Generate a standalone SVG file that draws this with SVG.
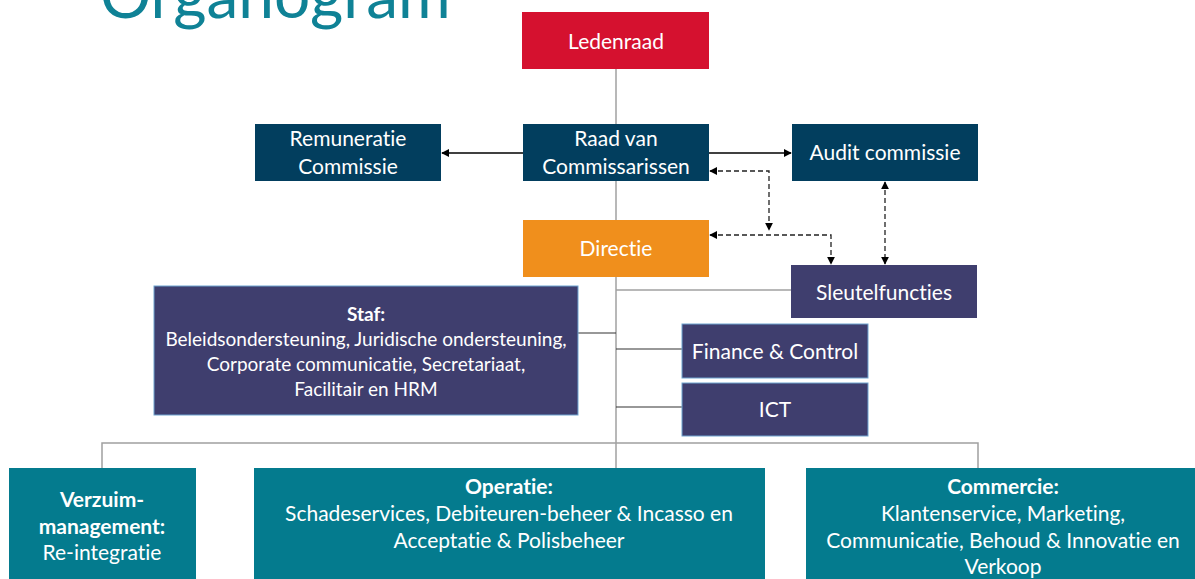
<svg xmlns="http://www.w3.org/2000/svg" width="1195" height="579" viewBox="0 0 1195 579">
<style>
text{font-variant-ligatures:none;font-feature-settings:"liga" 0,"clig" 0}
.t{font-family:Lato,"Liberation Sans",sans-serif;fill:#fff;text-anchor:middle}
.m{font-size:21px}
.s{font-size:19px}
.b{font-weight:bold}
.gray{stroke:#a0a0a0;stroke-width:1.5;fill:none}
.dark{stroke:#333;stroke-width:1.2;fill:none}
.arr{stroke:#000;stroke-width:1.5;fill:none}
.dash{stroke:#222;stroke-width:1.3;fill:none;stroke-dasharray:5 3}
.red{fill:#d5112f}
.blue{fill:#023e5e}
.orange{fill:#f08f1c}
.purple{fill:#3f3e6e}
.pb{fill:#3f3e6e;stroke:#6fa3d0;stroke-width:1}
.teal{fill:#047b8e}
</style>
<defs>
<marker id="ah" viewBox="0 0 10 10" refX="9" refY="5" markerWidth="8" markerHeight="8" markerUnits="userSpaceOnUse" orient="auto-start-reverse">
<path d="M0,0 L10,5 L0,10 z" fill="#000"/>
</marker>
</defs>
<text x="100" y="18" style="font-family:Lato,'Liberation Sans',sans-serif;font-weight:normal;font-size:64px;fill:#0f8296">Organogram</text>
<g id="connectors">
<path class="gray" d="M616,69 V468"/>
<path class="gray" d="M616,290 H791"/>
<path class="gray" d="M102,468 V443 H978 V468"/>
<path class="dark" d="M578,333 H616"/>
<path class="dark" d="M616,349 H682"/>
<path class="dark" d="M616,407 H682"/>
<path class="arr" d="M523,153 H442" marker-end="url(#ah)"/>
<path class="arr" d="M709,153 H791" marker-end="url(#ah)"/>
<path class="dash" d="M710,171 H769 V230" marker-start="url(#ah)" marker-end="url(#ah)"/>
<path class="dash" d="M710,235 H831 V264" marker-start="url(#ah)" marker-end="url(#ah)"/>
<path class="dash" d="M885,182 V264" marker-start="url(#ah)" marker-end="url(#ah)"/>
</g>
<g id="ledenraad"><rect class="red" x="522" y="12" width="187" height="57"/><text class="t m" x="616" y="49">Ledenraad</text></g>
<g id="raad"><rect class="blue" x="523" y="124" width="186" height="57"/><text class="t m" x="616" y="146">Raad van</text><text class="t m" x="616" y="174">Commissarissen</text></g>
<g id="remuneratie"><rect class="blue" x="255" y="124" width="186" height="57"/><text class="t m" x="348" y="146">Remuneratie</text><text class="t m" x="348" y="174">Commissie</text></g>
<g id="audit"><rect class="blue" x="792" y="124" width="186" height="57"/><text class="t m" x="885" y="160">Audit commissie</text></g>
<g id="directie"><rect class="orange" x="523" y="220" width="186" height="57"/><text class="t m" x="616" y="256">Directie</text></g>
<g id="sleutelfuncties"><rect class="purple" x="791" y="265" width="186" height="53"/><text class="t m" x="884" y="300">Sleutelfuncties</text></g>
<g id="staf"><rect class="pb" x="154" y="286" width="424" height="129"/>
<text class="t s b" x="366" y="321">Staf:</text>
<text class="t s" x="366" y="346">Beleidsondersteuning, Juridische ondersteuning,</text>
<text class="t s" x="366" y="371">Corporate communicatie, Secretariaat,</text>
<text class="t s" x="366" y="396">Facilitair en HRM</text></g>
<g id="finance"><rect class="pb" x="682" y="324" width="186" height="54"/><text class="t m" x="775" y="359">Finance &amp; Control</text></g>
<g id="ict"><rect class="pb" x="682" y="383" width="186" height="53"/><text class="t m" x="775" y="417">ICT</text></g>
<g id="verzuim"><rect class="teal" x="9" y="468" width="187" height="120"/>
<text class="t m b" x="102" y="507">Verzuim-</text>
<text class="t m b" x="102" y="534">management:</text>
<text class="t m" x="102" y="560">Re-integratie</text></g>
<g id="operatie"><rect class="teal" x="254" y="468" width="511" height="120"/>
<text class="t m b" x="509" y="494">Operatie:</text>
<text class="t m" x="509" y="521">Schadeservices, Debiteuren-beheer &amp; Incasso en</text>
<text class="t m" x="509" y="548">Acceptatie &amp; Polisbeheer</text></g>
<g id="commercie"><rect class="teal" x="806" y="468" width="395" height="120"/>
<text class="t m b" x="1003" y="494">Commercie:</text>
<text class="t m" x="1003" y="521">Klantenservice, Marketing,</text>
<text class="t m" x="1003" y="548">Communicatie, Behoud &amp; Innovatie en</text>
<text class="t m" x="1003" y="574">Verkoop</text></g>
</svg>
